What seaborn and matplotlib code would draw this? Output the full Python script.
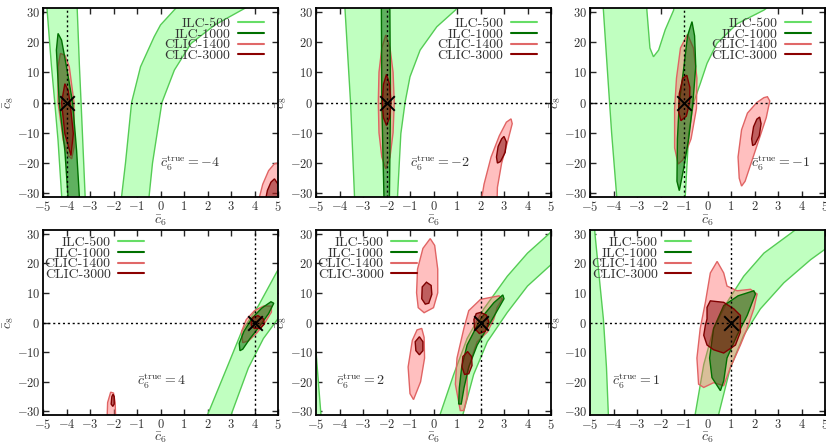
import numpy as np
import seaborn as sns
import matplotlib.pyplot as plt

sns.set_style("ticks")
plt.rcParams['font.family'] = ['cmr10', 'DejaVu Serif']
plt.rcParams['mathtext.fontset'] = 'cm'
plt.rcParams['axes.formatter.use_mathtext'] = True

# true value of c6 in each panel (left to right, top to bottom)
c6_true = [-4, -2, -1, 4, 2, 1]
colliders = ["ILC-500", "ILC-1000", "CLIC-1400", "CLIC-3000"]

# contour outlines (c6, c8)
# --- c6 true = -4
m4_ilc500 = [
    [(-4.86, 34), (-4.64, 12), (-4.5, 0), (-4.36, -12.5), (-4.18, -34),
     (-3.19, -34), (-3.31, -12.5), (-3.38, 0), (-3.45, 12), (-3.56, 34)],
    [(-1.70, -34), (-1.66, -31.3), (-1.49, -20), (-1.23, 0), (-0.85, 11.8), (-0.27, 21.7),
     (0.0, 25.6), (0.52, 30), (0.99, 34), (4.27, 34), (3.45, 30.5), (2.31, 25.6),
     (1.30, 19.5), (0.59, 10.7), (0.06, 0), (-0.34, -20), (-0.49, -31.3), (-0.52, -34)],
]
m4_ilc1000 = [
    [(-4.36, 22.8), (-4.43, 17.3), (-4.31, 0), (-4.07, -15.9), (-3.91, -34),
     (-3.43, -34), (-3.57, -15.9), (-3.74, 0), (-4.0, 11.8), (-4.21, 20.6)],
]
m4_clic1400 = [
    [(-4.26, 16.2), (-4.36, 11.8), (-4.36, 0), (-4.14, -12.5), (-3.93, -17.5), (-3.78, -18.6),
     (-3.68, -14.8), (-3.68, 0), (-3.88, 11.8), (-4.07, 15.6)],
    [(4.12, -34), (4.35, -27), (4.6, -22.5), (4.85, -20.2), (5.1, -19.8), (5.4, -22), (5.4, -34)],
]
m4_clic3000 = [
    [(-4.07, 6.2), (-4.21, 0), (-4.07, -10.3), (-3.81, -17.5), (-3.71, -10.3), (-3.85, 0), (-3.93, 4)],
    [(4.42, -34), (4.55, -29), (4.7, -26.3), (4.85, -25.2), (5.0, -27), (5.05, -34)],
]
# --- c6 true = -2
m2_ilc500 = [
    [(-3.79, 34), (-3.53, 0), (-3.36, -31.3), (-3.33, -34), (-1.55, -34), (-1.53, -31),
     (-1.39, -10.3), (-1.21, 0), (-1.0, 8.5), (-0.57, 17.3), (0.14, 25), (0.93, 30.5), (1.3, 34)],
]
m2_ilc1000 = [
    [(-2.22, 34), (-2.2, 0), (-2.1, -34), (-1.88, -34), (-1.83, 0), (-1.86, 34)],
]
m2_clic1400 = [
    [(-2.03, 22.3), (-1.85, 18), (-1.72, 10), (-1.67, 0), (-1.72, -10), (-1.85, -18), (-2.03, -21.9),
     (-2.2, -18), (-2.32, -10), (-2.35, 0), (-2.32, 10), (-2.2, 18)],
    [(2.0, -34), (2.15, -27), (2.45, -18), (2.8, -11), (3.1, -6.5), (3.3, -5.4), (3.35, -7),
     (3.15, -13), (2.9, -20), (2.72, -28), (2.7, -34)],
]
m2_clic3000 = [
    [(-2.0, 9.3), (-1.87, 6), (-1.81, 0), (-1.87, -5), (-2.0, -7.6), (-2.13, -5), (-2.18, 0), (-2.13, 6)],
    [(3.0, -11.2), (3.1, -13), (3.05, -16.5), (2.85, -19.5), (2.72, -20), (2.68, -18), (2.75, -14.5), (2.9, -12)],
]
# --- c6 true = -1
m1_ilc500 = [
    [(-4.47, 34), (-4.43, 30.5), (-4.22, 6), (-4.08, -10), (-3.86, -31.3), (-3.83, -34),
     (-0.97, -34), (-0.95, -31.3), (-0.80, -10.3), (-0.59, 0), (-0.31, 6.2), (-0.02, 12.9),
     (0.40, 19.5), (1.26, 26), (2.40, 30.5), (3.0, 34), (-1.40, 34), (-1.44, 30.5), (-1.80, 24),
     (-2.08, 17.3), (-2.30, 15.1), (-2.45, 18), (-2.58, 30.5), (-2.6, 34)],
]
m1_ilc1000 = [
    [(-0.66, 26.7), (-0.55, 22), (-0.5, 12), (-0.62, 0), (-0.8, -12), (-1.02, -22), (-1.2, -29.1),
     (-1.3, -26), (-1.28, -12), (-1.2, 0), (-1.0, 12), (-0.85, 22)],
]
m1_clic1400 = [
    [(-0.85, 22.5), (-0.6, 18), (-0.45, 8), (-0.47, -2), (-0.7, -12), (-1.05, -19), (-1.25, -20.3),
     (-1.4, -15), (-1.4, -2), (-1.32, 8), (-1.15, 18)],
    [(2.55, 1.9), (2.65, 0.5), (2.5, -5), (2.2, -12), (1.9, -19), (1.6, -26), (1.45, -27.6),
     (1.35, -25), (1.3, -18), (1.45, -9), (1.7, -3.5), (2.1, 0), (2.4, 1.6)],
]
m1_clic3000 = [
    [(-0.88, 9), (-0.75, 5), (-0.76, 0), (-0.9, -4.5), (-1.13, -6), (-1.23, -3), (-1.2, 3), (-1.05, 8)],
    [(2.22, -4.8), (2.28, -7), (2.2, -11), (2.02, -13.8), (1.92, -14.2), (1.88, -12), (1.96, -8), (2.1, -5.5)],
]
# --- c6 true = 4
p4_ilc500 = [
    [(1.88, -34), (2.02, -30.8), (2.88, -14.2), (3.45, -3.1), (4.17, 5.7), (5.0, 17.8), (5.3, 22),
     (5.3, -2.5), (5.0, 1.3), (4.38, -5.4), (3.74, -15.3), (3.02, -30.8), (2.95, -34)],
]
p4_ilc1000 = [
    [(3.38, -9.5), (3.35, -7), (3.55, -3), (3.9, 1.5), (4.3, 4.8), (4.7, 7), (4.82, 6.5),
     (4.6, 3), (4.2, -1.5), (3.8, -5.5), (3.5, -9)],
]
p4_clic1400 = [
    [(3.5, -6.8), (3.45, -3), (3.65, 1), (4.0, 4), (4.4, 5.6), (4.72, 5.5), (4.72, 3.5),
     (4.45, 0), (4.1, -3.5), (3.75, -6.2)],
    [(-2.28, -34), (-2.25, -27), (-2.12, -23.5), (-2.0, -23.8), (-1.93, -27), (-1.9, -34)],
]
p4_clic3000 = [
    [(3.85, 0), (3.95, 1.8), (4.15, 2.3), (4.38, 1.2), (4.42, -0.5), (4.25, -2.0), (4.0, -2.0), (3.87, -1.2)],
    [(-2.1, -27.5), (-2.07, -25), (-2.02, -24.2), (-1.97, -25), (-1.97, -27.5), (-2.03, -28.3)],
]
# --- c6 true = 2
p2_ilc500 = [
    [(0.22, -34), (0.29, -30.8), (0.86, -17.5), (1.43, -5.4), (2.14, 4.6), (3.14, 15.6), (4.0, 23.4),
     (4.93, 30), (5.3, 34), (5.3, 22), (5.0, 19.5), (4.0, 12.3), (3.14, 3.4), (2.29, -6.5),
     (1.71, -17.5), (1.26, -30.8), (1.22, -34)],
    [(-5.3, -5), (-5.0, -9.7), (-4.9, -20), (-4.79, -31), (-4.77, -34), (-5.3, -34)],
]
p2_ilc1000 = [
    [(1.07, -27.5), (1.1, -22), (1.2, -15), (1.43, -7.6), (2.0, 1.2), (2.57, 6.7), (2.95, 9.3),
     (3.0, 8), (2.43, 0.1), (1.86, -7.6), (1.5, -15), (1.3, -22), (1.18, -27.5)],
]
p2_clic1400 = [
    [(1.14, -29.7), (0.93, -20.8), (1.0, -12), (1.29, -2.1), (1.5, 4.0), (2.0, 7.8), (2.79, 9),
     (2.93, 7.9), (2.71, 5.1), (2.57, 1.2), (2.29, -3.2), (1.86, -6.5), (1.71, -9.8),
     (1.43, -17.5), (1.43, -25.2), (1.29, -29.7)],
    [(-0.14, 28.3), (0.05, 26), (0.18, 18), (0.18, 10), (0.0, 5), (-0.4, 3.3), (-0.65, 5),
     (-0.72, 10), (-0.68, 18), (-0.45, 25)],
    [(-0.5, -2.0), (-0.4, -5), (-0.38, -12), (-0.55, -20), (-0.85, -26), (-1.0, -24),
     (-1.08, -15), (-0.9, -6), (-0.7, -2.5)],
]
p2_clic3000 = [
    [(2.0, 3.4), (2.25, 2.5), (2.36, 0), (2.2, -3), (1.95, -3.7), (1.75, -2), (1.72, 1), (1.82, 3)],
    [(1.45, -9.8), (1.62, -11.5), (1.64, -14.5), (1.5, -17.3), (1.32, -17.5), (1.21, -15), (1.25, -11.5)],
    [(-0.3, 13.6), (-0.1, 12.5), (-0.07, 9.5), (-0.2, 6.5), (-0.35, 6.2), (-0.5, 8), (-0.48, 12)],
    [(-0.6, -4.8), (-0.45, -6.5), (-0.45, -9.5), (-0.6, -10.9), (-0.75, -9.5), (-0.78, -6.5)],
]
# --- c6 true = 1
p1_ilc500 = [
    [(-5.3, 34), (-4.82, 34), (-4.79, 30), (-4.57, 12.3), (-4.43, 1.2), (-4.3, -15),
     (-4.22, -30.8), (-4.2, -34), (-5.3, -34)],
    [(-0.56, -34), (-0.52, -30.8), (-0.16, -14.2), (0.26, -2.0), (0.83, 6.8), (1.54, 15.6),
     (2.40, 23.4), (3.53, 30), (4.2, 34), (5.3, 34), (5.3, 27), (5.0, 24.7), (4.39, 21.2),
     (3.25, 13.4), (2.25, 4.6), (1.54, -4.3), (0.97, -15.3), (0.48, -30.8), (0.45, -34)],
]
p1_ilc1000 = [
    [(0.55, -23), (0.19, -18.6), (0.09, -12), (0.26, -2), (0.69, 5.7), (1.3, 9), (1.97, 10.7),
     (2.04, 9.6), (1.69, 2.4), (1.26, -4.3), (0.83, -12), (0.69, -19.7)],
]
p1_clic1400 = [
    [(0.41, 20.6), (0.12, 16.7), (-0.09, 6.8), (-0.31, -2.0), (-0.45, -12), (-0.38, -20.8),
     (-0.16, -21.9), (0.26, -20.3), (0.69, -21.3), (0.97, -15.3), (1.40, -7.6), (1.69, -2.0),
     (1.97, 4.6), (2.11, 9.6), (1.83, 11.2), (1.26, 10.7), (0.83, 12.3), (0.69, 16.7)],
]
p1_clic3000 = [
    [(0.12, 7.3), (0.69, 6.8), (1.12, 4.6), (1.40, 2.4), (1.40, -3.2), (1.19, -7.6), (0.69, -10.3),
     (0.26, -9.2), (-0.02, -7.6), (-0.16, -4.3), (-0.09, -0.9), (-0.02, 1.2), (-0.02, 5.1)],
]

panels = [
    [m4_ilc500, m4_ilc1000, m4_clic1400, m4_clic3000],
    [m2_ilc500, m2_ilc1000, m2_clic1400, m2_clic3000],
    [m1_ilc500, m1_ilc1000, m1_clic1400, m1_clic3000],
    [p4_ilc500, p4_ilc1000, p4_clic1400, p4_clic3000],
    [p2_ilc500, p2_ilc1000, p2_clic1400, p2_clic3000],
    [p1_ilc500, p1_ilc1000, p1_clic1400, p1_clic3000],
]
text_pos = [(0.0, -20), (-1.0, -20), (1.83, -20), (-1.0, -20), (-4.14, -20), (-4.08, -20)]

face = ['#c0ffc0', '#006400', '#ff6060', '#800000']
face_alpha = [1.0, 0.5, 0.4, 0.5]
edge = ['#55cc55', '#007000', '#e06464', '#800000']
line_col = ['#66dd66', '#007000', '#e06868', '#8b0000']
draw_order = [0, 2, 1, 3]

fig = plt.figure(figsize=(8.26, 4.46), dpi=100)
lefts = [43 / 826, 316 / 826, 590 / 826]
w = 235 / 826
rows = [(1 - 197 / 446, 189 / 446), (1 - 415 / 446, 185 / 446)]
leg_x = [0.94, 0.43]
leg_y = [0.95, 0.965]

for k in range(6):
    r, c = divmod(k, 3)
    ax = fig.add_axes([lefts[c], rows[r][0], w, rows[r][1]])
    for n, j in enumerate(draw_order):
        for poly in panels[k][j]:
            xy = np.array(poly)
            ax.fill(xy[:, 0], xy[:, 1], facecolor=face[j], alpha=face_alpha[j],
                    edgecolor='none', zorder=1 + n)
            ax.fill(xy[:, 0], xy[:, 1], facecolor='none', edgecolor=edge[j],
                    lw=1.0, zorder=1.5 + n)
    for j, name in enumerate(colliders):
        ax.plot([], [], color=line_col[j], lw=1.5, label=name)
    ax.axvline(c6_true[k], color='black', ls=(0, (1.5, 2)), lw=1.0, zorder=10)
    ax.axhline(0, color='black', ls=(0, (1.5, 2)), lw=1.0, zorder=10)
    sns.scatterplot(x=[c6_true[k]], y=[0], marker='x', s=110, color='black',
                    linewidth=1.4, ax=ax, zorder=11, legend=False)
    tx, ty = text_pos[k]
    ax.text(tx, ty, r"$\bar{c}_6^{\mathrm{true}} = %d$" % c6_true[k], fontsize=10,
            va='center', ha='left', color='#333333', zorder=12)
    ax.set_xlim(-5, 5)
    ax.set_ylim(-31.2, 31.2)
    ax.set_xticks(range(-5, 6))
    ax.set_yticks(range(-30, 31, 10))
    ax.tick_params(direction='in', top=True, right=True, length=4, width=1,
                   labelsize=9, labelcolor='#333333', pad=2)
    for sp in ax.spines.values():
        sp.set_linewidth(1.3)
        sp.set_color('black')
        sp.set_zorder(20)
    ax.set_xlabel(r"$\bar{c}_6$", fontsize=10, color='#333333')
    ax.set_ylabel(r"$\bar{c}_8$", fontsize=10, color='#333333')
    ax.xaxis.set_label_coords(0.5, -0.086)
    ax.yaxis.set_label_coords(-0.115, 0.5)
    leg = ax.legend(loc='upper right', bbox_to_anchor=(leg_x[r], leg_y[r]), markerfirst=False,
                    frameon=False, fontsize=10, handlelength=1.9, handletextpad=0.5,
                    labelspacing=-0.15, borderpad=0.0, borderaxespad=0.0)
    for t in leg.get_texts():
        t.set_color('#333333')
    leg.set_zorder(15)

fig.savefig("out.png", dpi=100)
